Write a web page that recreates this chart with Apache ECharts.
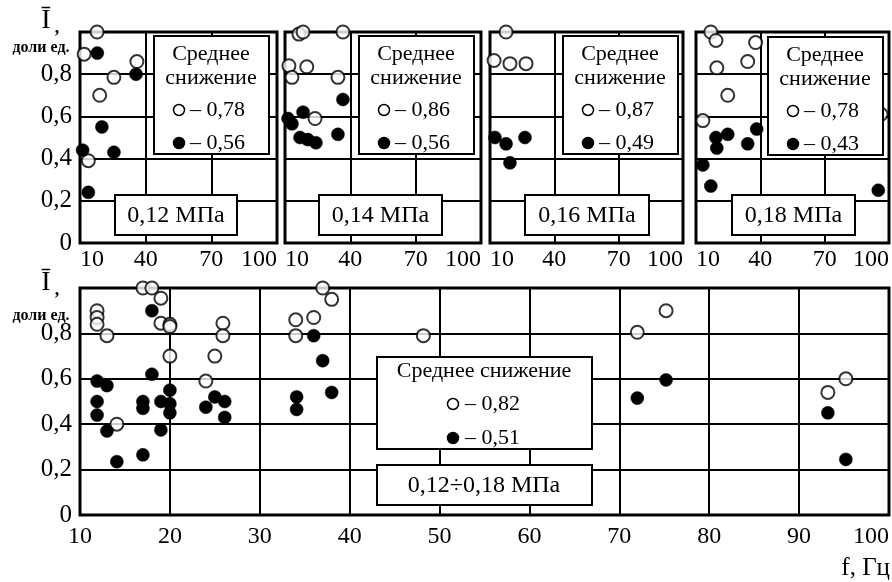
<!DOCTYPE html>
<html>
<head>
<meta charset="utf-8">
<script src="https://cdn.jsdelivr.net/npm/echarts@6/dist/echarts.min.js"></script>
<style>
html,body{margin:0;padding:0;background:#fff;}
#c{width:892px;height:582px;}
</style>
</head>
<body>
<div id="c"></div>
<script>
// ---- data (f, Hz ; I, fraction) ----
const xTicksTop = [10, 40, 70, 100];
const xTicksBottom = [10, 20, 30, 40, 50, 60, 70, 80, 90, 100];
const yTicks = [0, 0.2, 0.4, 0.6, 0.8, 1.0];

const p12Open = [[17.8,1.0],[11.9,0.895],[36,0.86],[25.5,0.785],[19,0.70],[13.8,0.39]];
const p12Fill = [[17.9,0.90],[35.6,0.80],[20,0.55],[11.2,0.44],[25.5,0.43],[13.8,0.24]];
const p14Open = [[16.4,0.99],[18.3,1.0],[36.6,1.0],[11.8,0.84],[20,0.835],[13.2,0.785],[34.3,0.785],[23.8,0.59]];
const p14Fill = [[36.6,0.68],[18.3,0.62],[11.4,0.59],[13.2,0.565],[16.9,0.50],[20.5,0.49],[24.2,0.475],[34.3,0.515]];
const p16Open = [[17.5,1.0],[11.9,0.865],[19.3,0.85],[26.8,0.85]];
const p16Fill = [[12.3,0.50],[17.5,0.47],[26.3,0.50],[19.3,0.38]];
const p18Open = [[16.9,1.0],[19.3,0.96],[37.8,0.95],[34.1,0.86],[19.7,0.83],[24.8,0.70],[13.2,0.58],[96.3,0.61]];
const p18Fill = [[38.3,0.54],[24.8,0.515],[19.3,0.50],[19.7,0.45],[34.1,0.47],[13.2,0.37],[16.9,0.27],[95,0.25]];

const allOpen = [[11.9,0.90],[11.9,0.87],[11.9,0.84],[13,0.79],[14.1,0.40],[17,1.0],[18,1.0],[19,0.955],[19,0.845],[20,0.84],[20,0.83],[20,0.70],[25.9,0.845],[25.9,0.79],[25,0.70],[24,0.59],[34,0.86],[34,0.79],[36,0.87],[37,1.0],[38,0.95],[48.2,0.79],[72,0.805],[75.2,0.90],[93.2,0.54],[95.2,0.60]];
const allFill = [[11.9,0.59],[13,0.57],[11.9,0.50],[11.9,0.44],[13,0.37],[14.1,0.235],[17,0.265],[17,0.50],[17,0.47],[18,0.90],[18,0.62],[19,0.50],[19,0.375],[20,0.55],[20,0.49],[20,0.45],[24,0.475],[25,0.52],[26.1,0.50],[26.1,0.43],[36,0.79],[37,0.68],[38,0.54],[34.1,0.52],[34.1,0.465],[72,0.515],[75.2,0.595],[93.2,0.45],[95.2,0.245]];

const panelLabels = ['0,12 МПа','0,14 МПа','0,16 МПа','0,18 МПа','0,12÷0,18 МПа'];
const meanOpen = ['– 0,78','– 0,86','– 0,87','– 0,78','– 0,82'];
const meanFill = ['– 0,56','– 0,56','– 0,49','– 0,43','– 0,51'];
const legendTitleTop = ['Среднее','снижение'];
const legendTitleBottom = 'Среднее снижение';

// ---- layout ----
const FONT = '"Liberation Serif","Times New Roman",serif';
const grids = [
  {left:80, top:32, width:197, height:211},
  {left:285, top:32, width:196, height:211},
  {left:490, top:32, width:193, height:211},
  {left:696, top:32, width:194, height:211},
  {left:80, top:288, width:809, height:227}
];
const seriesData = [[p12Open,p12Fill],[p14Open,p14Fill],[p16Open,p16Fill],[p18Open,p18Fill],[allOpen,allFill]];

function yFmt(v){ if (v === 0) return '0'; if (v > 0.99) return ''; return v.toFixed(1).replace('.', ','); }

const xAxes = [], yAxes = [], series = [];
grids.forEach((g, i) => {
  const bottom = i === 4;
  const ticks = bottom ? xTicksBottom : xTicksTop;
  xAxes.push({
    type:'value', gridIndex:i, min:ticks[0], max:ticks[ticks.length-1],
    interval: ticks[1]-ticks[0],
    axisLine:{show:false}, axisTick:{show:false},
    splitLine:{show:true, lineStyle:{color:'#000', width:2}},
    axisLabel:{show:true, color:'#000', fontFamily:FONT, fontSize:24,
      margin: bottom ? 10 : 5,
      alignMinLabel: bottom ? 'center' : 'left', alignMaxLabel:'right'}
  });
  yAxes.push({
    type:'value', gridIndex:i, min:yTicks[0], max:yTicks[yTicks.length-1], interval:yTicks[1]-yTicks[0],
    axisLine:{show:false}, axisTick:{show:false},
    splitLine:{show:true, lineStyle:{color:'#000', width:2}},
    axisLabel:{show: i === 0 || i === 4, color:'#000', fontFamily:FONT, fontSize:25, margin:8, formatter:yFmt}
  });
  series.push({
    type:'scatter', xAxisIndex:i, yAxisIndex:i, data:seriesData[i][0], symbol:'circle', symbolSize:13,
    itemStyle:{color:'#fff', borderColor:'#000', borderWidth:2}, z:3, silent:true
  });
  series.push({
    type:'scatter', xAxisIndex:i, yAxisIndex:i, data:seriesData[i][1], symbol:'circle', symbolSize:13,
    itemStyle:{color:'#000', borderColor:'#000', borderWidth:0.5, opacity:1}, z:4, silent:true
  });
});

// annotation boxes
const graphic = [];
const Z = 100;
function rect(x, y, w, h){ graphic.push({type:'rect', z:Z, shape:{x, y, width:w, height:h}, style:{fill:'#fff', stroke:'#000', lineWidth:2}}); }
function text(x, y, t, size, align, weight){ graphic.push({type:'text', z:Z+1, x, y, style:{text:t, font:(weight||'normal')+' '+size+'px '+FONT, fill:'#000', textAlign:align||'center', textVerticalAlign:'middle'}}); }
function dot(x, y, filled){ graphic.push({type:'circle', z:Z+1, shape:{cx:x, cy:y, r:5.5}, style:{fill: filled ? '#000' : '#fff', stroke:'#000', lineWidth:1.5}}); }

const legBoxesTop = [[154,36],[359,36],[563,36],[768,37]];
const labBoxesTop = [[115,195,122],[319,195,123],[525,195,124],[732,195,123]];
legBoxesTop.forEach((b, i) => {
  const [x, y] = b;
  rect(x, y, 115, 118);
  text(x+57, y+18, legendTitleTop[0], 22);
  text(x+57, y+42, legendTitleTop[1], 22);
  dot(x+25, y+74, false); text(x+36, y+74, meanOpen[i], 22, 'left');
  dot(x+25, y+107, true); text(x+36, y+107, meanFill[i], 22, 'left');
  const l = labBoxesTop[i];
  rect(l[0], l[1], l[2], 40);
  text(l[0]+l[2]/2, l[1]+21, panelLabels[i], 24);
});
// bottom boxes
rect(377, 357, 215, 92);
text(484, 371, legendTitleBottom, 22);
dot(453, 404, false); text(465, 404, meanOpen[4], 22, 'left');
dot(453, 438, true); text(465, 438, meanFill[4], 22, 'left');
rect(377, 465, 215, 40);
text(484, 486, panelLabels[4], 24);

// axis titles
[[21, 48],[283, 316]].forEach(p => {
  text(46, p[0], 'Ī', 28);
  text(57, p[0]+7, ',', 18, 'center', 'bold');
  text(41, p[1], 'доли ед.', 16, 'center', 'bold');
});
text(890, 568, 'f, Гц', 25, 'right');

const chart = echarts.init(document.getElementById('c'), null, {renderer:'canvas'});
chart.setOption({
  animation:false,
  backgroundColor:'#fff',
  grid: grids.map(g => Object.assign({show:true, borderColor:'#000', borderWidth:3, backgroundColor:'transparent'}, g)),
  xAxis: xAxes, yAxis: yAxes, series, graphic
});
</script>
</body>
</html>
